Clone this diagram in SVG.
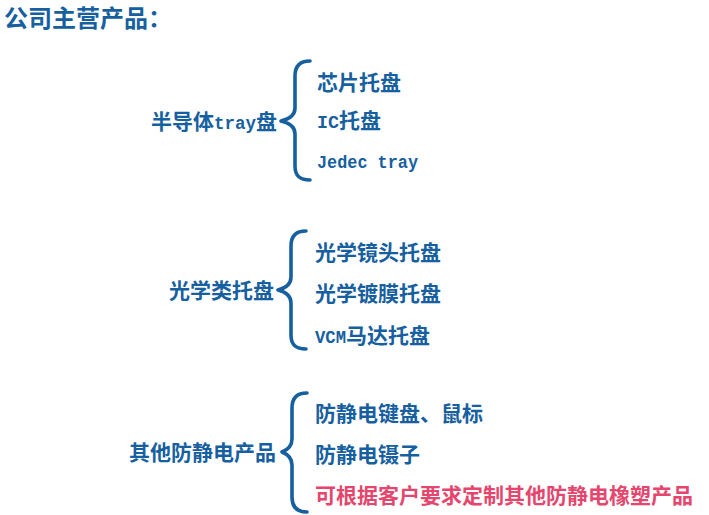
<svg xmlns="http://www.w3.org/2000/svg" width="709" height="515" viewBox="0 0 709 515">
<style>
.t{font-family:"Noto Sans CJK SC","Liberation Sans",sans-serif;font-size:21px;font-weight:bold;fill:#17609f}
.m{font-family:"Liberation Mono","Noto Sans CJK SC",monospace;font-size:19px;font-weight:bold}
.r{fill:#e5466d}
.b{fill:none;stroke:#17609f;stroke-width:3.6;stroke-linecap:round;stroke-linejoin:round}
</style>
<rect width="709" height="515" fill="#ffffff"/>
<g id="title"><text class="t" x="4" y="27" style="font-size:24px">公司主营产品：</text></g>
<g id="connectors">
<path class="b" d="M310 61 C300 61 295 66 295 76 L295 108 C295 115 290 119 281 121 C290 123 295 127 295 134 L295 166 C295 176 300 180 310 180"/>
<path class="b" d="M306 231 C296 231 291 236 291 246 L291 277 C291 284 286 288 278 290 C286 292 291 296 291 303 L291 335 C291 345 296 349 306 349"/>
<path class="b" d="M307 393 C297 393 292 398 292 408 L292 439 C292 446 287 450 282 452 C287 454 292 458 292 465 L292 497 C292 507 297 512 307 512"/>
</g>
<g id="n-semi"><text class="t" x="151" y="129">半导体<tspan class="m" style="font-size:17.5px">tray</tspan>盘</text></g>
<g id="n-chip"><text class="t" x="317" y="90">芯片托盘</text></g>
<g id="n-ic"><text class="t" x="317" y="128"><tspan class="m" textLength="22" lengthAdjust="spacingAndGlyphs">IC</tspan>托盘</text></g>
<g id="n-jedec"><text class="t" x="317" y="168"><tspan class="m" textLength="101" lengthAdjust="spacingAndGlyphs">Jedec tray</tspan></text></g>
<g id="n-optic"><text class="t" x="169" y="298">光学类托盘</text></g>
<g id="n-lens"><text class="t" x="315" y="260">光学镜头托盘</text></g>
<g id="n-coat"><text class="t" x="315" y="301">光学镀膜托盘</text></g>
<g id="n-vcm"><text class="t" x="315" y="343"><tspan class="m" textLength="31" lengthAdjust="spacingAndGlyphs">VCM</tspan>马达托盘</text></g>
<g id="n-esd"><text class="t" x="129" y="460">其他防静电产品</text></g>
<g id="n-kbd"><text class="t" x="315" y="421">防静电键盘、鼠标</text></g>
<g id="n-tweezer"><text class="t" x="315" y="462">防静电镊子</text></g>
<g id="n-custom"><text class="t r" x="315" y="503">可根据客户要求定制其他防静电橡塑产品</text></g>
</svg>
